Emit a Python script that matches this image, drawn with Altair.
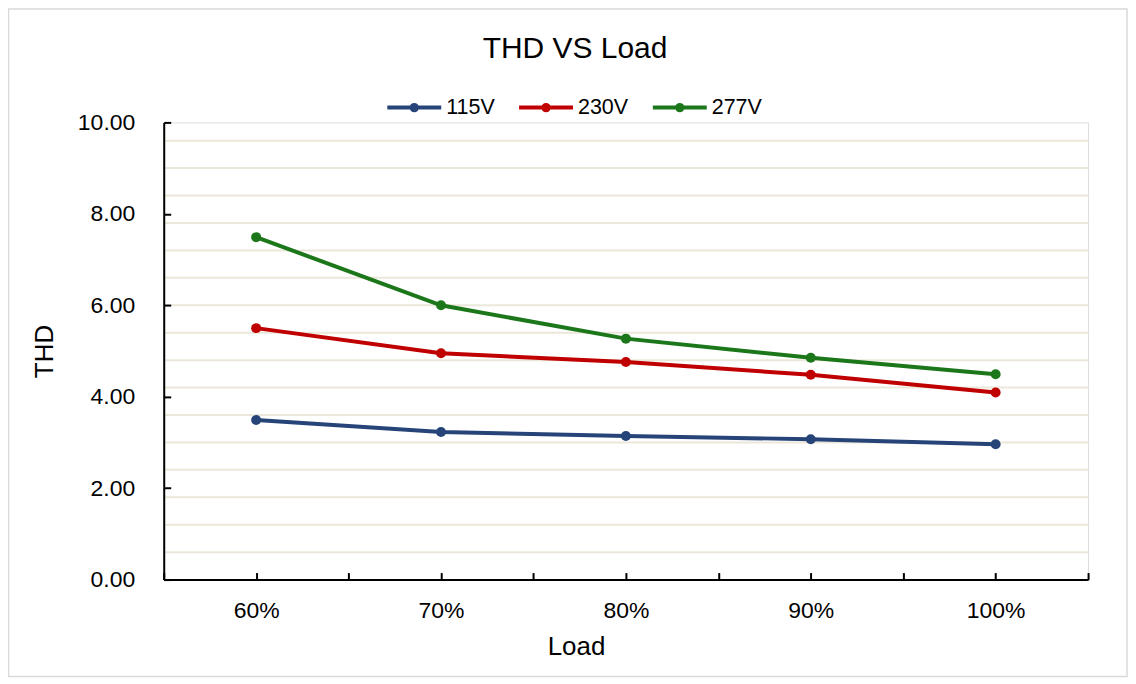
import altair as alt
import pandas as pd

# ---- data ----
loads = [60, 70, 80, 90, 100]
series = ["115V", "230V", "277V"]
thd_115 = [3.49, 3.23, 3.14, 3.07, 2.96]
thd_230 = [5.50, 4.95, 4.76, 4.48, 4.09]
thd_277 = [7.49, 6.00, 5.27, 4.85, 4.49]
colors = ["#264478", "#C00000", "#1C771A"]
y_tick_values = [0, 2, 4, 6, 8, 10]
grid_values = [0.6, 1.2, 1.8, 2.4, 3.0, 3.6, 4.2, 4.8, 5.4, 6.0, 6.6, 7.2, 7.8, 8.4, 9.0, 9.6]
x_tick_values = [55, 60, 65, 70, 75, 80, 85, 90, 95, 100, 105]

rows = []
for name, vals in zip(series, [thd_115, thd_230, thd_277]):
    for l, v in zip(loads, vals):
        rows.append({"load": l, "thd": v, "series": name})
df = pd.DataFrame(rows)
grid_df = pd.DataFrame({"g": grid_values})

FONT = "Liberation Sans"
W, H = 926, 458

xscale = alt.Scale(domain=[55, 105], nice=False, zero=False)
yscale = alt.Scale(domain=[0, 10], nice=False, zero=True)
cscale = alt.Scale(domain=series, range=colors)

legend_symbol = "M-1,0L1,0M0.1,0A0.1,0.1,0,1,1,-0.1,0A0.1,0.1,0,1,1,0.1,0"

grid = alt.Chart(grid_df).mark_rule(color="#ebe7da", strokeWidth=2).encode(
    y=alt.Y("g:Q", scale=yscale, axis=None)
)

label_x_axis = alt.Axis(
    orient="bottom", values=loads, ticks=False, tickSize=0, grid=False,
    domainColor="#000000", domainWidth=2,
    labelExpr="datum.value + '%'", labelFont=FONT, labelFontSize=23,
    labelColor="#000000", labelPadding=20,
    title="Load", titleFont=FONT, titleFontSize=26, titleFontWeight="normal",
    titleColor="#000000", titleX=413, titleY=67, titleBaseline="middle",
    titleAlign="center", zindex=1,
)
label_y_axis = alt.Axis(
    orient="left", values=y_tick_values, ticks=False, tickSize=0, grid=False,
    format=".2f", domainColor="#000000", domainWidth=2,
    labelFont=FONT, labelFontSize=23, labelColor="#000000", labelPadding=29,
    title="THD", titleFont=FONT, titleFontSize=26, titleFontWeight="normal",
    titleColor="#000000", titleX=-119, titleY=229, titleBaseline="middle",
    titleAlign="center", zindex=1,
)

lines = alt.Chart(df).mark_line(strokeWidth=4).encode(
    x=alt.X("load:Q", scale=xscale, axis=label_x_axis),
    y=alt.Y("thd:Q", scale=yscale, axis=label_y_axis),
    color=alt.Color(
        "series:N", scale=cscale,
        legend=alt.Legend(
            orient="none", legendX=222, legendY=-44, direction="horizontal",
            title=None, symbolType=legend_symbol, symbolSize=2916,
            symbolStrokeWidth=4, labelFont=FONT, labelFontSize=21.5,
            labelColor="#000000", labelOffset=3, columnPadding=16,
        ),
    ),
)

tick_x_axis = alt.Axis(
    orient="top", offset=-H, values=x_tick_values, labels=False, domain=False,
    grid=False, ticks=True, tickSize=7, tickWidth=2, tickColor="#000000",
    title=None, zindex=1,
)
tick_y_axis = alt.Axis(
    orient="right", offset=-W, values=y_tick_values, labels=False, domain=False,
    grid=False, ticks=True, tickSize=7, tickWidth=2, tickColor="#000000",
    title=None, zindex=1,
)

points = alt.Chart(df).mark_point(filled=True, size=100, opacity=1).encode(
    x=alt.X("load:Q", scale=xscale, axis=tick_x_axis),
    y=alt.Y("thd:Q", scale=yscale, axis=tick_y_axis),
    color=alt.Color("series:N", scale=cscale, legend=None),
)

border = alt.Chart(pd.DataFrame({"z": [0]})).mark_rect(
    fillOpacity=0, stroke="#d9d9d9", strokeWidth=1.5
).encode(
    x=alt.value(-155.5), x2=alt.value(965), y=alt.value(-113.5), y2=alt.value(555)
)

chart = (
    alt.layer(border, grid, lines, points)
    .resolve_axis(x="independent", y="independent")
    .properties(
        width=W, height=H,
        autosize=alt.AutoSizeParams(type="none"),
        padding={"left": 156, "top": 114, "right": 40, "bottom": 98},
        title=alt.TitleParams(
            "THD VS Load", font=FONT, fontSize=30, fontWeight="normal",
            color="#000000", anchor="middle", dx=-51, offset=-80,
            baseline="alphabetic",
        ),
    )
    .configure_view(stroke="transparent")
    .configure(background="#ffffff")
)

chart.save("out.html", embed_options={"renderer": "svg", "actions": False})
